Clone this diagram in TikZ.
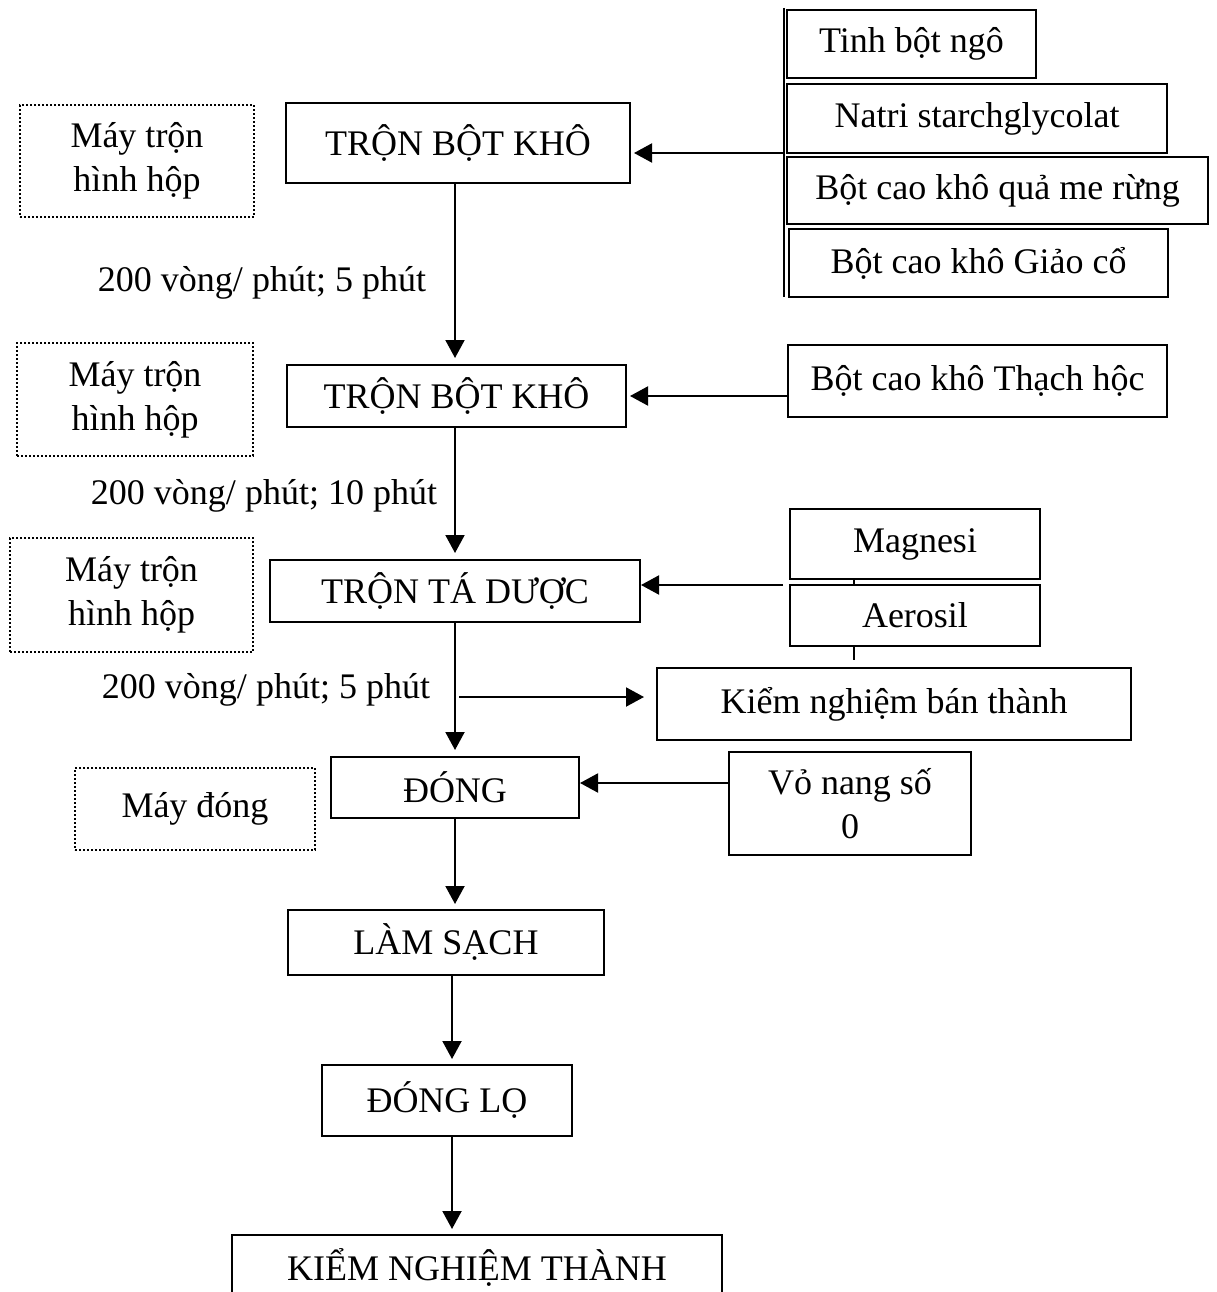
\documentclass[tikz,border=0pt]{standalone}
\usepackage{fontspec}
\setmainfont{Liberation Serif}
\usetikzlibrary{arrows.meta,calc}
\begin{document}
\begin{tikzpicture}[x=1pt,y=-1pt,
  every node/.style={font=\fontsize{36}{44}\selectfont, align=center, inner sep=0pt},
  stepbox/.style={draw, line width=2pt},
  machbox/.style={draw, line width=2pt, dotted},
  arr/.style={line width=2pt, -{Triangle[length=18pt,width=19pt]}},
  plain/.style={line width=2pt}]
\clip (0,0) rectangle (1216,1292);
\fill[white] (0,0) rectangle (1216,1292);

% main column
\node[stepbox, minimum width=344pt, minimum height=80pt] (tron1) at (458,143) {TRỘN BỘT KHÔ};
\node[stepbox, minimum width=339pt, minimum height=62pt] (tron2) at (456.5,396) {TRỘN BỘT KHÔ};
\node[stepbox, minimum width=370pt, minimum height=62pt] (tron3) at (455,591) {TRỘN TÁ DƯỢC};
\node[stepbox, minimum width=248pt, minimum height=61pt] (dong) at (455,787.5) {ĐÓNG};
\node[stepbox, minimum width=316pt, minimum height=65pt] (lam) at (446,942.5) {LÀM SẠCH};
\node[stepbox, minimum width=250pt, minimum height=71pt] (donglo) at (447,1100.5) {ĐÓNG LỌ};
\node[stepbox, minimum width=490pt, minimum height=64pt] (kntp) at (477,1267) {KIỂM NGHIỆM THÀNH};

% machines
\node[machbox, minimum width=234pt, minimum height=112pt] (may1) at (137,161) {Máy trộn\\hình hộp};
\node[machbox, minimum width=236pt, minimum height=113pt] (may2) at (135,399.5) {Máy trộn\\hình hộp};
\node[machbox, minimum width=243pt, minimum height=114pt] (may3) at (131.5,595) {Máy trộn\\hình hộp};
\node[machbox, minimum width=240pt, minimum height=82pt] (maydong) at (195,809) {Máy đóng};

% labels
\node (lbl1) at (262,283) {200 vòng/ phút; 5 phút};
\node (lbl2) at (264,496) {200 vòng/ phút; 10 phút};
\node (lbl3) at (266,690) {200 vòng/ phút; 5 phút};

% inputs
\node[stepbox, minimum width=249pt, minimum height=68pt] (tinh) at (911.5,44) {Tinh bột ngô};
\node[stepbox, minimum width=380pt, minimum height=69pt] (natri) at (977,118.5) {Natri starchglycolat};
\node[stepbox, minimum width=421pt, minimum height=67pt] (me) at (997.5,190.5) {Bột cao khô quả me rừng};
\node[stepbox, minimum width=379pt, minimum height=68pt] (giao) at (978.5,263) {Bột cao khô Giảo cổ};
\node[stepbox, minimum width=379pt, minimum height=72pt] (thach) at (977.5,381) {Bột cao khô Thạch hộc};
\node[stepbox, minimum width=250pt, minimum height=70pt] (magn) at (915,544) {Magnesi};
\node[stepbox, minimum width=250pt, minimum height=61pt] (aero) at (915,615.5) {Aerosil};
\node[stepbox, minimum width=474pt, minimum height=72pt] (kiem) at (894,704) {Kiểm nghiệm bán thành};
\node[stepbox, minimum width=242pt, minimum height=103pt] (vo) at (850,803.5) {Vỏ nang số\\0};

% coordinates
\coordinate (bartop) at (784,8);
\coordinate (barbot) at (784,297);
\coordinate (barmid) at (784,153);
\coordinate (tajoin) at (783,585);
\coordinate (mgx) at (854,579);
\coordinate (aex) at (854,660);
\coordinate (kstart) at (459,697);
\coordinate (voin) at (729,783);

% connectors
\draw[plain, line width=2.5pt] (bartop) -- (barbot);
\draw[arr, shorten >=3pt] (barmid) -- (barmid -| tron1.east);
\draw[arr, shorten >=3pt] (thach.west |- tron2.east) -- (tron2.east);
\draw[arr] (tajoin) -- (tajoin -| tron3.east);
\draw[plain, line width=1.5pt] (mgx) -- (mgx |- aero.north);
\draw[plain, line width=1.5pt] (mgx |- aero.south) -- (aex);
\draw[arr, shorten >=12pt] (kstart) -- (kstart -| kiem.west);
\draw[arr] (voin) -- (voin -| dong.east);

\draw[arr, shorten >=7pt] (455,183) -- (455,365);
\draw[arr, shorten >=7pt] (455,427) -- (455,560);
\draw[arr, shorten >=7pt] (455,622) -- (455,757);
\draw[arr, shorten >=6pt] (455,818) -- (455,910);
\draw[arr, shorten >=6pt] (452,975) -- (452,1065);
\draw[arr, shorten >=6pt] (452,1136) -- (452,1235);
\end{tikzpicture}
\end{document}
